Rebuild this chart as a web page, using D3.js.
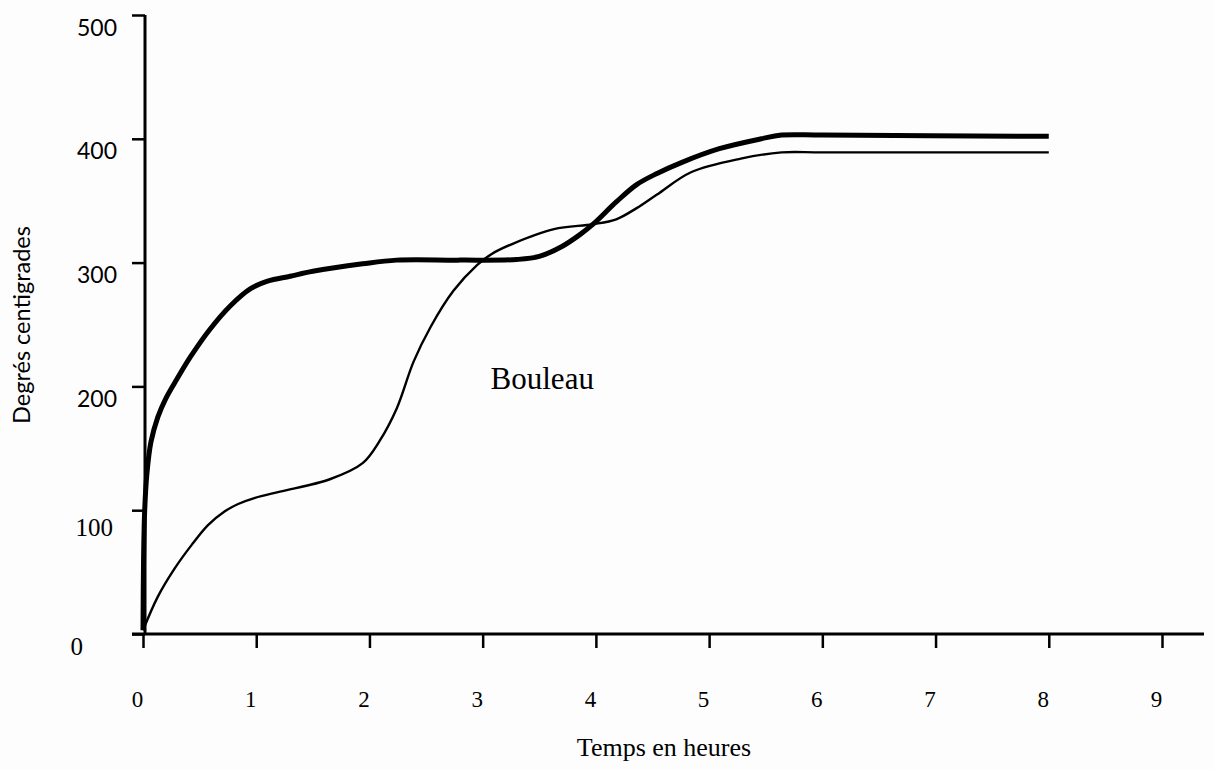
<!DOCTYPE html>
<html>
<head>
<meta charset="utf-8">
<script src="https://cdn.jsdelivr.net/npm/d3@7"></script>
<style>
  html, body { margin: 0; padding: 0; background: #fdfdfd; }
  svg { display: block; }
</style>
</head>
<body>
<svg id="chart" width="1214" height="769"></svg>
<script>
// Temperature (°C) against time (hours) — two firing curves for birch wood.
const hoursTicks = [0, 1, 2, 3, 4, 5, 6, 7, 8, 9];
const degreeTicks = [0, 100, 200, 300, 400, 500];

// Heavy curve: hours and degrees
const heavyHours   = [0, 0.005, 0.015, 0.035, 0.07, 0.13, 0.2, 0.3, 0.42, 0.59, 0.77, 0.95, 1.1, 1.3, 1.5, 1.94, 2.24, 2.8, 3.3, 3.5, 3.7, 3.85, 3.975, 4.18, 4.36, 4.54, 4.76, 5.09, 5.46, 5.64, 6.0, 8.0];
const heavyDegrees = [3, 60, 100, 130, 155, 175, 190, 206, 224, 246, 265, 279, 285, 289, 293, 299, 302, 302, 302.5, 305, 313, 322, 331, 349, 363, 372, 381, 392, 400, 403, 403, 402];

// Light curve: hours and degrees
const lightHours   = [0, 0.13, 0.28, 0.43, 0.574, 0.72, 0.84, 0.99, 1.21, 1.65, 1.94, 2.09, 2.24, 2.39, 2.54, 2.74, 2.95, 3.08, 3.26, 3.63, 3.975, 4.18, 4.36, 4.54, 4.84, 5.28, 5.64, 6.0, 8.0];
const lightDegrees = [3, 30, 53, 72, 88, 99, 105, 110, 115, 125, 138, 156, 182, 220, 248, 277, 298, 307, 315, 327, 331, 335, 344, 355, 373, 384, 389, 389, 389];

const xTitle = "Temps en heures";
const yTitle = "Degrés centigrades";
const curveLabel = "Bouleau";

const serif = "'Liberation Serif', 'Times New Roman', serif";
const sans = "Lato, 'Liberation Sans', sans-serif";

const svg = d3.select("#chart");
const x = d3.scaleLinear().domain([0, 9]).range([143, 1162]);
const y = d3.scaleLinear().domain([0, 500]).range([634, 15]);

// x axis
const gx = svg.append("g").attr("transform", `translate(0,${y(0)})`)
  .call(d3.axisBottom(x).tickValues(hoursTicks).tickSize(14).tickSizeOuter(0));
gx.select(".domain").remove();
gx.append("line")
  .attr("x1", x(0) - 11).attr("x2", x(9) + 42)
  .attr("y1", 0).attr("y2", 0)
  .attr("stroke", "#000").attr("stroke-width", 3);
gx.selectAll(".tick line").attr("stroke", "#000").attr("stroke-width", 2.5);
gx.selectAll(".tick text")
  .attr("y", 73).attr("dy", 0).attr("dx", -6)
  .attr("fill", "#000")
  .style("font-family", serif).style("font-size", "23px");

// y axis
const gy = svg.append("g").attr("transform", `translate(${x(0) + 2},0)`)
  .call(d3.axisLeft(y).tickValues(degreeTicks).tickSize(13).tickSizeOuter(0));
gy.select(".domain").attr("stroke", "#000").attr("stroke-width", 3)
  .attr("d", `M0,${y(500)}V${y(0)}`);
gy.selectAll(".tick line").attr("stroke", "#000").attr("stroke-width", 2.5);
gy.selectAll(".tick text")
  .attr("x", d => d === 0 ? -62 : (d === 100 ? -32 : -28))
  .attr("dy", d => d === 100 ? 25 : 20)
  .attr("fill", "#000")
  .style("font-family", d => d >= 200 ? sans : serif)
  .style("font-size", d => d >= 200 ? "23px" : "25px");

// axis titles
svg.append("text")
  .attr("x", 664).attr("y", 756)
  .attr("text-anchor", "middle")
  .style("font-family", serif).style("font-size", "26px")
  .text(xTitle);

svg.append("text")
  .attr("transform", "translate(30,325) rotate(-90)")
  .attr("text-anchor", "middle")
  .style("font-family", sans).style("font-size", "23.5px")
  .text(yTitle);

// curves
const line = d3.line()
  .x(d => x(d[0]))
  .y(d => y(d[1]))
  .curve(d3.curveCatmullRom.alpha(0.5));

const heavy = heavyHours.map((h, i) => [h, heavyDegrees[i]]);
const light = lightHours.map((h, i) => [h, lightDegrees[i]]);

svg.append("path").datum(light)
  .attr("d", line)
  .attr("fill", "none").attr("stroke", "#000")
  .attr("stroke-width", 2.4);

svg.append("path").datum(heavy)
  .attr("d", line)
  .attr("fill", "none").attr("stroke", "#000")
  .attr("stroke-width", 5);

// curve label
svg.append("text")
  .attr("x", x(3.07)).attr("y", y(198))
  .style("font-family", serif).style("font-size", "31px")
  .text(curveLabel);
</script>
</body>
</html>
